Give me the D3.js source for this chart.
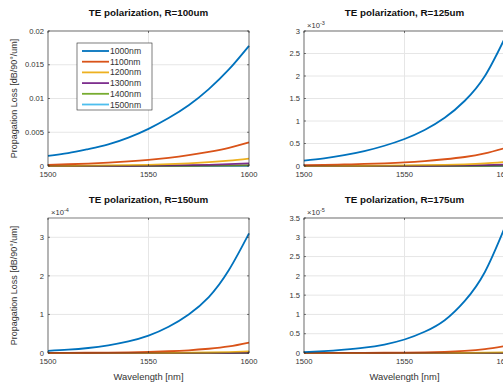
<!DOCTYPE html>
<html>
<head>
<meta charset="utf-8">
<script src="https://cdn.jsdelivr.net/npm/d3@7"></script>
<style>
  body { margin: 0; background: #fff; }
  svg { display: block; font-family: "Liberation Sans", Arial, sans-serif; }
</style>
</head>
<body>
<svg id="fig" width="503" height="386"></svg>
<script>
// wavelength samples [nm]
var wavelengths = [1500, 1510, 1520, 1530, 1540, 1550, 1560, 1570, 1580, 1590, 1600];
var seriesNames = ["1000nm", "1100nm", "1200nm", "1300nm", "1400nm", "1500nm"];
var xTicks = [1500, 1550, 1600];

// R=100um, loss in dB/90deg/um
var r100 = [
  [0.0015, 0.0019, 0.0025, 0.0032, 0.0042, 0.0055, 0.0071, 0.0090, 0.0114, 0.0143, 0.0178],
  [0.00018, 0.00026, 0.00036, 0.0005, 0.00068, 0.0009, 0.0012, 0.0016, 0.0021, 0.0027, 0.0035],
  [0.00002, 0.00003, 0.00005, 0.00008, 0.00012, 0.00018, 0.00027, 0.0004, 0.00057, 0.0008, 0.0011],
  [0.000005, 0.000008, 0.00001, 0.00002, 0.00003, 0.00005, 0.00008, 0.00012, 0.00018, 0.00027, 0.0004],
  [0.000002, 0.000003, 0.000004, 0.000006, 0.00001, 0.000015, 0.000023, 0.000035, 0.00005, 0.00008, 0.00012],
  [0.000001, 0.000001, 0.000002, 0.000002, 0.000003, 0.000005, 0.000007, 0.00001, 0.000015, 0.000022, 0.00003]
];
// R=125um, x1e-3
var r125 = [
  [0.12, 0.17, 0.24, 0.33, 0.45, 0.6, 0.8, 1.07, 1.45, 2.0, 2.85],
  [0.02, 0.025, 0.035, 0.045, 0.06, 0.08, 0.11, 0.15, 0.2, 0.28, 0.4],
  [0.002, 0.003, 0.004, 0.006, 0.009, 0.013, 0.018, 0.026, 0.038, 0.058, 0.09],
  [0.001, 0.001, 0.002, 0.002, 0.003, 0.004, 0.006, 0.009, 0.013, 0.02, 0.03],
  [0.0005, 0.0005, 0.001, 0.001, 0.001, 0.002, 0.002, 0.003, 0.004, 0.006, 0.009],
  [0.0002, 0.0002, 0.0003, 0.0003, 0.0004, 0.0005, 0.0007, 0.001, 0.0014, 0.002, 0.003]
];
// R=150um, x1e-4
var r150 = [
  [0.055, 0.085, 0.13, 0.2, 0.3, 0.45, 0.68, 1.0, 1.45, 2.15, 3.1],
  [0.002, 0.004, 0.007, 0.011, 0.018, 0.028, 0.045, 0.07, 0.11, 0.17, 0.27],
  [0.0003, 0.0005, 0.0008, 0.0012, 0.002, 0.003, 0.005, 0.008, 0.013, 0.023, 0.04],
  [0.0001, 0.0001, 0.0002, 0.0003, 0.0005, 0.0008, 0.0012, 0.002, 0.003, 0.005, 0.009],
  [0.0001, 0.0001, 0.0001, 0.0001, 0.0002, 0.0002, 0.0003, 0.0005, 0.0008, 0.0012, 0.002],
  [0, 0, 0, 0, 0.0001, 0.0001, 0.0001, 0.0001, 0.0002, 0.0003, 0.0005]
];
// R=175um, x1e-5
var r175 = [
  [0.02, 0.05, 0.09, 0.14, 0.22, 0.35, 0.55, 0.85, 1.35, 2.1, 3.27],
  [0.001, 0.002, 0.003, 0.004, 0.006, 0.009, 0.015, 0.03, 0.055, 0.1, 0.18],
  [0.0002, 0.0003, 0.0004, 0.0006, 0.0009, 0.0013, 0.002, 0.003, 0.005, 0.009, 0.016],
  [0, 0, 0.0001, 0.0001, 0.0002, 0.0003, 0.0004, 0.0006, 0.001, 0.0016, 0.003],
  [0, 0, 0, 0, 0, 0.0001, 0.0001, 0.0001, 0.0002, 0.0003, 0.0005],
  [0, 0, 0, 0, 0, 0, 0, 0, 0.0001, 0.0001, 0.0001]
];

var colors = ["#0072BD", "#D95319", "#EDB120", "#7E2F8E", "#77AC30", "#4DBEEE"];

var panels = [
  {title: "TE polarization, R=100um", data: r100, yMax: 0.02, yTicks: [0, 0.005, 0.01, 0.015, 0.02], fmt: function(d){ return d === 0 ? "0" : String(+d.toFixed(3)); }, exp: null, x: 48, y: 31, ylab: true, xlab: false, legend: true},
  {title: "TE polarization, R=125um", data: r125, yMax: 3, yTicks: [0, 0.5, 1, 1.5, 2, 2.5, 3], fmt: d3.format("~g"), exp: "-3", x: 304, y: 31, ylab: false, xlab: false, legend: false},
  {title: "TE polarization, R=150um", data: r150, yMax: 3.5, yTicks: [0, 1, 2, 3], fmt: d3.format("~g"), exp: "-4", x: 48, y: 218, ylab: true, xlab: true, legend: false},
  {title: "TE polarization, R=175um", data: r175, yMax: 3.5, yTicks: [0, 0.5, 1, 1.5, 2, 2.5, 3, 3.5], fmt: d3.format("~g"), exp: "-5", x: 304, y: 218, ylab: false, xlab: true, legend: false}
];

var W = 201, H = 135;
var axisColor = "#262626";
var svg = d3.select("#fig");

panels.forEach(function(p) {
  var g = svg.append("g").attr("transform", "translate(" + p.x + "," + p.y + ")");
  var x = d3.scaleLinear().domain([1500, 1600]).range([0, W]);
  var y = d3.scaleLinear().domain([0, p.yMax]).range([H, 0]);

  // grid
  g.selectAll("line.gx").data(xTicks).enter().append("line")
    .attr("x1", function(d){ return x(d); }).attr("x2", function(d){ return x(d); })
    .attr("y1", 0).attr("y2", H)
    .attr("stroke", "#e6e6e6").attr("stroke-width", 1);
  g.selectAll("line.gy").data(p.yTicks).enter().append("line")
    .attr("x1", 0).attr("x2", W)
    .attr("y1", function(d){ return y(d); }).attr("y2", function(d){ return y(d); })
    .attr("stroke", "#e6e6e6").attr("stroke-width", 1);

  // curves
  var line = d3.line()
    .x(function(d, i){ return x(wavelengths[i]); })
    .y(function(d){ return y(d); })
    .curve(d3.curveNatural);
  for (var s = p.data.length - 1; s >= 0; s--) {
    g.append("path").datum(p.data[s])
      .attr("d", line)
      .attr("fill", "none")
      .attr("stroke", colors[s])
      .attr("stroke-width", 1.8);
  }

  // axes (box with inner ticks)
  var ax = g.append("g").attr("font-size", 7.6).attr("fill", "#333");
  ax.append("rect").attr("x", 0).attr("y", 0).attr("width", W).attr("height", H)
    .attr("fill", "none").attr("stroke", axisColor).attr("stroke-width", 0.6);
  xTicks.forEach(function(t) {
    ax.append("line").attr("x1", x(t)).attr("x2", x(t)).attr("y1", H).attr("y2", H - 2).attr("stroke", axisColor).attr("stroke-width", 0.6);
    ax.append("line").attr("x1", x(t)).attr("x2", x(t)).attr("y1", 0).attr("y2", 2).attr("stroke", axisColor).attr("stroke-width", 0.6);
    ax.append("text").attr("x", x(t)).attr("y", H + 11).attr("text-anchor", "middle").text(t);
  });
  p.yTicks.forEach(function(t) {
    ax.append("line").attr("x1", 0).attr("x2", 2).attr("y1", y(t)).attr("y2", y(t)).attr("stroke", axisColor).attr("stroke-width", 0.6);
    ax.append("line").attr("x1", W).attr("x2", W - 2).attr("y1", y(t)).attr("y2", y(t)).attr("stroke", axisColor).attr("stroke-width", 0.6);
    ax.append("text").attr("x", -4).attr("y", y(t) + 2.7).attr("text-anchor", "end").text(p.fmt(t));
  });

  if (p.exp) {
    var e = ax.append("text").attr("x", 3).attr("y", -3);
    e.append("tspan").text("\u00d710");
    e.append("tspan").attr("dy", -3).attr("font-size", 5.5).text(p.exp);
  }

  g.append("text").attr("x", W / 2).attr("y", -15).attr("text-anchor", "middle")
    .attr("font-size", 9.8).attr("font-weight", "bold").attr("fill", "#111").text(p.title);

  if (p.ylab) {
    g.append("text").attr("transform", "translate(-31," + (H / 2) + ") rotate(-90)")
      .attr("text-anchor", "middle").attr("font-size", 9).attr("fill", "#333")
      .text("Propagation Loss [dB/90\u00b0/um]");
  }
  if (p.xlab) {
    g.append("text").attr("x", W / 2).attr("y", H + 27).attr("text-anchor", "middle")
      .attr("font-size", 9.4).attr("fill", "#333").text("Wavelength [nm]");
  }

  if (p.legend) {
    var lg = g.append("g").attr("transform", "translate(29,12)");
    lg.append("rect").attr("width", 75).attr("height", 67)
      .attr("fill", "#fff").attr("stroke", "#262626").attr("stroke-width", 0.6);
    seriesNames.forEach(function(n, i) {
      var yy = 8 + i * 10.7;
      lg.append("line").attr("x1", 5).attr("x2", 32).attr("y1", yy).attr("y2", yy)
        .attr("stroke", colors[i]).attr("stroke-width", 1.8);
      lg.append("text").attr("x", 33).attr("y", yy + 3).attr("font-size", 8.6).attr("fill", "#333").text(n);
    });
  }
});
</script>
</body>
</html>
